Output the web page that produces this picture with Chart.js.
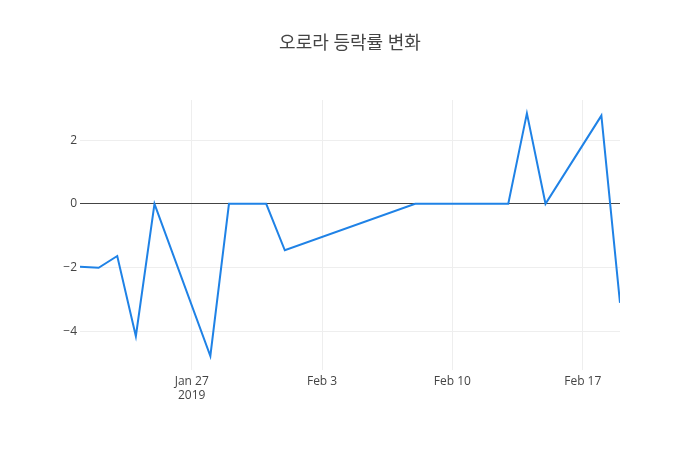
<!DOCTYPE html>
<html>
<head>
<meta charset="utf-8">
<script src="https://cdn.jsdelivr.net/npm/chart.js@4"></script>
<style>
  body { margin: 0; background: #fff; }
</style>
</head>
<body>
<canvas id="rateChart" width="700" height="450"></canvas>
<script>
const chartTitle = '오로라 등락률 변화';
const dates = ['2019-01-21', '2019-01-22', '2019-01-23', '2019-01-24', '2019-01-25',
    '2019-01-28', '2019-01-29', '2019-01-30', '2019-01-31', '2019-02-01',
    '2019-02-08', '2019-02-11', '2019-02-12', '2019-02-13', '2019-02-14',
    '2019-02-15', '2019-02-18', '2019-02-19'];
const changeRates = [-1.98, -2.01, -1.64, -4.16, 0, -4.78, 0, 0, 0, -1.46,
    0, 0, 0, 0, 2.84, 0, 2.77, -3.11];
const xTickDates = ['2019-01-27', '2019-02-03', '2019-02-10', '2019-02-17'];
const xTickLabels = [['Jan 27', '2019'], 'Feb 3', 'Feb 10', 'Feb 17'];
const yTicks = [-4, -2, 0, 2];

// 날짜 -> 일(day) 숫자
const toDay = s => Date.UTC(+s.slice(0, 4), +s.slice(5, 7) - 1, +s.slice(8, 10)) / 86400000;
const xTickDays = xTickDates.map(toDay);

const fontFamily = '"Open Sans", "Noto Sans CJK KR", sans-serif';

new Chart(document.getElementById('rateChart').getContext('2d'), {
    type: 'line',
    data: {
        datasets: [{
            data: dates.map((d, i) => ({ x: toDay(d), y: changeRates[i] })),
            borderColor: '#1f82e6',
            borderWidth: 2,
            pointRadius: 0,
            tension: 0,
            fill: false
        }]
    },
    options: {
        responsive: false,
        animation: false,
        layout: { padding: 0 },
        plugins: {
            legend: { display: false },
            tooltip: { enabled: false },
            title: {
                display: true,
                text: chartTitle,
                color: '#444',
                font: { family: fontFamily, size: 18, weight: 'normal' },
                padding: { top: 33, bottom: 45.4 }
            }
        },
        scales: {
            x: {
                type: 'linear',
                min: toDay(dates[0]),
                max: toDay(dates[dates.length - 1]),
                afterFit: s => { s.height = 80; },
                afterBuildTicks: s => { s.ticks = xTickDays.map(v => ({ value: v })); },
                ticks: {
                    autoSkip: false,
                    maxRotation: 0,
                    padding: 4,
                    color: '#444',
                    font: { family: fontFamily, size: 12 },
                    callback: (v) => xTickLabels[xTickDays.indexOf(v)]
                },
                grid: { color: '#eee', drawTicks: false },
                border: { display: false }
            },
            y: {
                min: -5.22,
                max: 3.26,
                afterFit: s => { s.width = 80; },
                afterBuildTicks: s => { s.ticks = yTicks.map(v => ({ value: v })); },
                ticks: {
                    padding: 3,
                    color: '#444',
                    font: { family: fontFamily, size: 12 },
                    callback: v => v < 0 ? '\u2212' + Math.abs(v) : String(v)
                },
                grid: {
                    drawTicks: false,
                    color: ctx => ctx.tick && ctx.tick.value === 0 ? '#444' : '#eee'
                },
                border: { display: false }
            },
            // 오른쪽 여백용 빈 축
            yRight: {
                position: 'right',
                min: -5.22,
                max: 3.26,
                afterFit: s => { s.width = 80; },
                ticks: { display: false },
                grid: { display: false, drawTicks: false },
                border: { display: false }
            }
        }
    }
});
</script>
</body>
</html>
